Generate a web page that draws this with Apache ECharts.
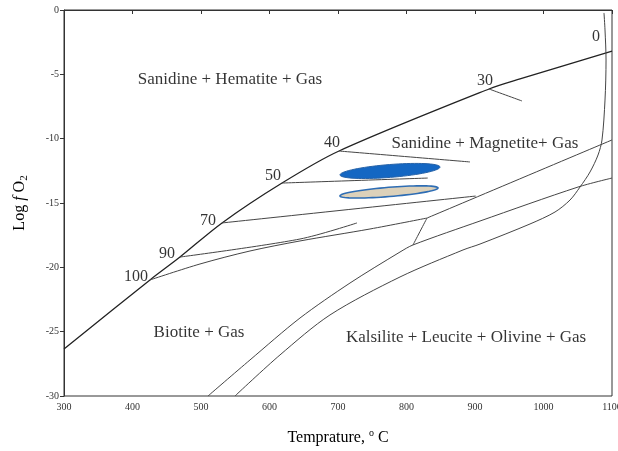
<!DOCTYPE html>
<html>
<head>
<meta charset="utf-8">
<script src="https://cdn.jsdelivr.net/npm/echarts@6/dist/echarts.min.js"></script>
<style>html,body{margin:0;padding:0;background:#fff}#c{width:618px;height:451px}</style>
</head>
<body>
<div id="c"></div>
<script>
// ---- Data (Temperature °C, log fO2) ----
const xTicks = [300, 400, 500, 600, 700, 800, 900, 1000, 1100];
const yTicks = [-30, -25, -20, -15, -10, -5, 0];

const boundaryMain = [[300,-26.35],[425.5,-20.98],[469.3,-19.2],[530.7,-16.55],[618.3,-13.45],[701.5,-10.96],[920.5,-6.14],[965.7,-5.36],[1100,-3.19]];
const line30 = [[920.5,-6.14],[968.6,-7.07]];
const line40 = [[701.5,-10.96],[892.7,-11.81]];
const line50 = [[618.3,-13.45],[831,-13.06]];
const line70 = [[530.7,-16.55],[901,-14.46]];
const line90 = [[469.3,-19.2],[644.5,-17.8],[727.7,-16.55]];
const line100 = [[425.5,-20.98],[498.5,-19.74],[571.5,-18.73],[644.5,-17.95],[746.7,-17.02],[829.9,-16.17]];
const curveC = [[829.9,-16.17],[1100,-10.1]];
const connector = [[829.9,-16.17],[809.5,-18.26]];
const curveA = [[510.2,-30],[571.5,-27.2],[644.5,-23.94],[717.5,-21.22],[790.5,-18.81],[809.5,-18.26],[907.3,-16.4],[1050.4,-13.76],[1100,-13.06]];
const curveB = [[549.6,-30],[615.3,-26.81],[688.3,-23.7],[790.5,-20.75],[882.5,-18.65],[907.3,-18.19],[980.3,-16.63],[1016.8,-15.7],[1038.7,-14.77],[1053.3,-13.76],[1067.9,-12.59],[1079.6,-11.27],[1085.4,-10.1],[1089.8,-7.0],[1091.3,-3.89],[1089.8,-1.55],[1088.3,-0.23]];

// ellipses: [T1, y1, T2, y2, half-thickness in log units]
const ellipseSolid = [702.9,-12.82,848.9,-12.2,0.5];
const ellipseSand = [702.9,-14.45,846,-13.83,0.36];

// contour number labels
const numberNames = ['0','30','40','50','70','90','100'];
const numberPos = [[1076.7,-2.1],[914.6,-5.52],[691.3,-10.34],[605.1,-12.9],[510.2,-16.4],[450.4,-18.96],[405.1,-20.75]];

// region labels
const regionNames = ['Sanidine + Hematite + Gas','Sanidine + Magnetite+ Gas','Biotite + Gas','Kalsilite + Leucite + Olivine + Gas'];
const regionPos = [[542.3,-5.44],[914.6,-10.34],[497.1,-25.03],[886.9,-25.49]];

// ---- Chart ----
const chart = echarts.init(document.getElementById('c'), null, {renderer:'canvas'});
const serif = 'Liberation Serif';

function lineSeries(data, w, color){
  return {type:'line', data:data, symbol:'none', smooth:0.3, silent:true,
    lineStyle:{color:color||'#454545', width:w||1}, z:3};
}
function ellipseSeries(e, fill, stroke, lw){
  return {type:'custom', data:[e], z:4, silent:true,
    renderItem:function(params, api){
      const p1 = api.coord([api.value(0), api.value(1)]);
      const p2 = api.coord([api.value(2), api.value(3)]);
      const cx=(p1[0]+p2[0])/2, cy=(p1[1]+p2[1])/2;
      const a=Math.hypot(p2[0]-p1[0],p2[1]-p1[1])/2;
      const b=api.size([0, api.value(4)])[1];
      const ang=Math.atan2(p2[1]-p1[1],p2[0]-p1[0]);
      const pts=[];
      for(let i=0;i<72;i++){
        const t=i/72*Math.PI*2;
        const x=a*Math.cos(t), y=b*Math.sin(t);
        pts.push([cx+x*Math.cos(ang)-y*Math.sin(ang), cy+x*Math.sin(ang)+y*Math.cos(ang)]);
      }
      return {type:'polygon', shape:{points:pts}, style:{fill:fill, stroke:stroke, lineWidth:lw}};
    }};
}

const option = {
  animation:false,
  backgroundColor:'#fff',
  grid:{left:64, right:6, top:10, bottom:55, containLabel:false, outerBoundsMode:'none',
        show:true, borderColor:'#333', borderWidth:1},
  xAxis:{type:'value', min:300, max:1100, interval:100,
    name:'{a|Temprature, }{s|o}{a| C}', nameLocation:'middle', nameGap:32,
    nameTextStyle:{rich:{a:{fontFamily:serif, fontSize:16, color:'#000', lineHeight:20},
                         s:{fontFamily:serif, fontSize:10, color:'#000', lineHeight:10, verticalAlign:'top'}}},
    axisLine:{show:true, lineStyle:{color:'#333', width:1}},
    axisTick:{show:true, inside:false, length:4, lineStyle:{color:'#333'}},
    axisLabel:{fontFamily:serif, fontSize:10, color:'#333', margin:6, showMaxLabel:true, showMinLabel:true,
      formatter:function(v){return xTicks.indexOf(v)>=0 ? String(v) : '';}},
    splitLine:{show:false}},
  yAxis:{type:'value', min:-30, max:0, interval:5,
    name:'{a|Log }{i|f}{a| O}{s|2}', nameLocation:'middle', nameGap:34, nameRotate:90,
    nameTextStyle:{rich:{a:{fontFamily:serif, fontSize:16, color:'#000', lineHeight:20},
                         i:{fontFamily:serif, fontStyle:'italic', fontSize:16, color:'#000', lineHeight:20},
                         s:{fontFamily:serif, fontSize:11, color:'#000', lineHeight:11, verticalAlign:'bottom'}}},
    axisLine:{show:true, lineStyle:{color:'#333', width:1}},
    axisTick:{show:true, inside:false, length:4, lineStyle:{color:'#333'}},
    axisLabel:{fontFamily:serif, fontSize:10, color:'#333', margin:5,
      formatter:function(v){return yTicks.indexOf(v)>=0 ? String(v) : '';}},
    splitLine:{show:false}},
  series:[
    lineSeries(boundaryMain, 1.3, '#222'),
    lineSeries(line30), lineSeries(line40), lineSeries(line50), lineSeries(line70),
    lineSeries(line90), lineSeries(line100), lineSeries(curveC), lineSeries(connector),
    lineSeries(curveA), lineSeries(curveB),
    ellipseSeries(ellipseSolid, '#1467c3', '#2763a8', 1),
    ellipseSeries(ellipseSand, '#dcd1ba', '#2e6db4', 1.6),
    {type:'scatter', symbolSize:0, silent:true, z:5,
      data:numberNames.map((n,i)=>({name:n, value:numberPos[i]})),
      label:{show:true, position:'inside', formatter:p=>p.name, fontFamily:serif, fontSize:16, color:'#000'}},
    {type:'scatter', symbolSize:0, silent:true, z:5,
      data:regionNames.map((n,i)=>({name:n, value:regionPos[i]})),
      label:{show:true, position:'inside', formatter:p=>p.name, fontFamily:serif, fontSize:17, color:'#000'}}
  ]
};
chart.setOption(option);
</script>
</body>
</html>
